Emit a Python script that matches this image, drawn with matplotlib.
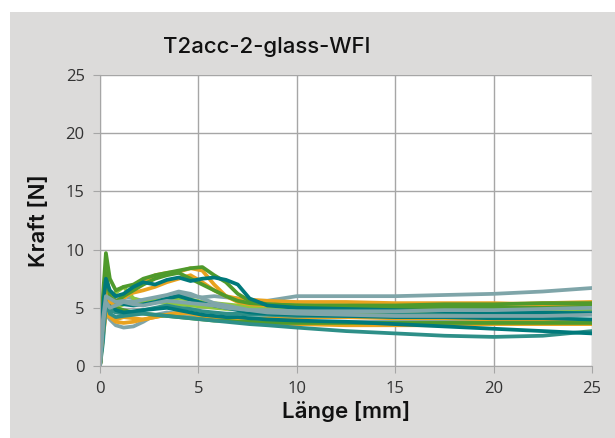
import matplotlib
matplotlib.use('Agg')
import matplotlib.pyplot as plt
from matplotlib.patches import Rectangle

# Länge [mm] sample positions shared by all curves
laenge = [0, 0.15, 0.3, 0.5, 0.8, 1.2, 1.7, 2.2, 2.8, 3.4, 4.0, 4.6, 5.2,
          5.8, 6.4, 7.0, 7.6, 8.5, 10, 12.5, 15, 17.5, 20, 22.5, 25]

kraft_01 = [0, 6.0, 9.7, 7.5, 6.5, 6.8, 7.0, 7.5, 7.8, 8.0, 8.2, 8.4, 8.5, 7.8, 7.2, 6.2, 5.6, 5.3, 5.2, 5.1, 5.0, 5.0, 5.0, 5.0, 5.1]
kraft_02 = [0, 3.0, 8.5, 4.5, 6.3, 6.8, 5.8, 5.5, 5.6, 5.7, 5.8, 5.7, 5.5, 5.4, 5.3, 5.2, 5.1, 5.0, 4.9, 4.8, 4.8, 4.8, 4.9, 5.0, 5.1]
kraft_03 = [0, 5.0, 7.5, 6.5, 6.0, 6.2, 6.8, 7.2, 7.0, 7.4, 7.6, 7.3, 7.5, 7.6, 7.4, 7.0, 5.8, 5.2, 5.0, 4.9, 4.8, 4.7, 4.6, 4.6, 4.5]
kraft_04 = [0, 4.0, 6.5, 5.5, 5.2, 5.8, 6.5, 7.3, 7.8, 8.0, 8.1, 8.4, 8.2, 7.0, 6.0, 5.5, 5.3, 5.2, 5.2, 5.2, 5.3, 5.3, 5.3, 5.4, 5.5]
kraft_05 = [0, 3.5, 5.0, 5.5, 5.8, 6.0, 5.8, 5.6, 5.8, 6.0, 6.2, 6.0, 5.9, 6.0, 5.9, 5.8, 5.6, 5.6, 6.0, 6.0, 6.0, 6.1, 6.2, 6.4, 6.7]
kraft_06 = [0, 3.0, 4.5, 4.0, 3.5, 3.3, 3.4, 3.8, 4.4, 4.6, 4.5, 4.4, 4.3, 4.2, 4.1, 4.0, 3.9, 3.8, 3.8, 3.8, 3.8, 3.8, 3.8, 3.8, 3.9]
kraft_07 = [0, 2.0, 5.5, 4.5, 4.2, 4.3, 4.4, 4.5, 4.4, 4.3, 4.2, 4.1, 4.0, 3.9, 3.8, 3.7, 3.6, 3.5, 3.3, 3.0, 2.8, 2.6, 2.5, 2.6, 3.0]
kraft_08 = [0, 4.5, 6.5, 5.5, 4.8, 4.6, 4.7, 4.8, 4.9, 5.0, 4.8, 4.6, 4.4, 4.3, 4.2, 4.2, 4.1, 4.0, 3.9, 3.8, 3.6, 3.4, 3.2, 3.0, 2.8]
kraft_09 = [0, 3.0, 5.0, 4.5, 4.0, 4.2, 4.1, 4.0, 4.2, 4.4, 4.6, 4.5, 4.3, 4.2, 4.1, 4.0, 4.0, 4.1, 4.2, 4.2, 4.1, 4.1, 4.0, 3.9, 3.9]
kraft_10 = [0, 5.0, 8.0, 6.0, 5.5, 6.0, 6.5, 7.0, 7.5, 7.8, 8.0, 7.5, 7.0, 6.5, 6.0, 5.6, 5.4, 5.3, 5.2, 5.2, 5.2, 5.3, 5.3, 5.4, 5.4]
kraft_11 = [0, 4.0, 7.0, 6.0, 5.5, 6.0, 6.3, 6.5, 6.8, 7.2, 7.5, 7.8, 7.2, 6.5, 6.0, 5.8, 5.7, 5.6, 5.5, 5.5, 5.4, 5.4, 5.4, 5.3, 5.3]
kraft_12 = [0, 4.0, 6.0, 5.2, 5.0, 5.3, 5.5, 5.6, 5.5, 5.4, 5.3, 5.2, 5.1, 5.0, 4.9, 4.9, 4.8, 4.8, 4.7, 4.6, 4.6, 4.6, 4.7, 4.7, 4.8]
kraft_13 = [0, 4.0, 6.0, 5.8, 5.5, 5.6, 5.5, 5.7, 5.9, 6.1, 6.4, 6.2, 5.8, 5.4, 5.2, 5.0, 4.8, 4.6, 4.5, 4.4, 4.3, 4.3, 4.3, 4.3, 4.4]
kraft_14 = [0, 4.5, 6.5, 6.2, 5.5, 5.3, 5.2, 5.3, 5.5, 5.8, 6.0, 5.7, 5.4, 5.2, 5.0, 4.8, 4.6, 4.5, 4.4, 4.3, 4.2, 4.2, 4.1, 4.1, 4.0]
kraft_15 = [0, 4.0, 6.5, 5.5, 5.0, 4.8, 4.6, 4.5, 4.4, 4.3, 4.2, 4.1, 4.0, 3.9, 3.9, 3.8, 3.8, 3.7, 3.7, 3.7, 3.7, 3.7, 3.7, 3.7, 3.7]
kraft_16 = [0, 3.0, 5.5, 4.8, 4.6, 4.5, 4.6, 4.8, 5.0, 5.2, 5.0, 4.9, 4.7, 4.6, 4.5, 4.5, 4.4, 4.4, 4.3, 4.3, 4.4, 4.4, 4.5, 4.5, 4.6]
kraft_17 = [0, 2.5, 4.5, 4.2, 3.8, 3.7, 3.8, 4.0, 4.2, 4.4, 4.5, 4.6, 4.4, 4.0, 3.9, 3.8, 3.7, 3.6, 3.6, 3.5, 3.5, 3.5, 3.6, 3.6, 3.6]
kraft_18 = [0, 3.5, 5.5, 5.0, 5.2, 5.5, 5.3, 5.2, 5.4, 5.6, 5.5, 5.4, 5.3, 5.2, 5.0, 4.9, 4.8, 4.8, 4.7, 4.7, 4.7, 4.8, 4.8, 4.9, 5.0]

TEAL = '#00797B'
TEAL2 = '#2E8F88'
GREEN = '#4F9A2C'
LGREEN = '#8DC63F'
ORANGE = '#E9A21F'
GRAY = '#7FA5A9'

curves = [
    (kraft_05, GRAY), (kraft_06, GRAY), (kraft_09, ORANGE), (kraft_17, ORANGE),
    (kraft_12, LGREEN), (kraft_02, LGREEN), (kraft_15, GREEN), (kraft_16, TEAL2),
    (kraft_07, TEAL2), (kraft_08, TEAL), (kraft_14, TEAL), (kraft_11, ORANGE),
    (kraft_04, ORANGE), (kraft_10, GREEN), (kraft_01, GREEN), (kraft_03, TEAL),
    (kraft_13, GRAY), (kraft_18, GRAY),
]

fig = plt.figure(figsize=(6.15, 4.38), dpi=100)
fig.patches.append(Rectangle((10 / 615, 0), 1, 1 - 12 / 438, transform=fig.transFigure,
                             facecolor='#DCDBDA', edgecolor='none', zorder=-1))
ax = fig.add_axes([100 / 615, 1 - 366 / 438, 492 / 615, 291 / 438])

for y, c in curves:
    ax.plot(laenge, y, color=c, lw=2.7, solid_capstyle='round', solid_joinstyle='round')

ax.set_xlim(0, 25)
ax.set_ylim(0, 25)
ax.set_xticks([0, 5, 10, 15, 20, 25])
ax.set_yticks([0, 5, 10, 15, 20, 25])
ax.grid(True, color='#A6A6A6', lw=1)
ax.set_axisbelow(True)
for s in ['top', 'right']:
    ax.spines[s].set_visible(False)
for s in ['left', 'bottom']:
    ax.spines[s].set_color('#A6A6A6')
ax.tick_params(length=5, color='#A6A6A6', labelsize=12, labelcolor='#333333', pad=6)
for lab in ax.get_xticklabels() + ax.get_yticklabels():
    lab.set_family('Open Sans')

lbl = dict(family='Inter', fontsize=16, fontweight='semibold', color='#111111')
ax.set_xlabel('Länge [mm]', labelpad=3, **lbl)
ax.set_ylabel('Kraft [N]', labelpad=12, **lbl)
fig.text(267 / 615, 1 - 47 / 438, 'T2acc-2-glass-WFI', ha='center', va='center',
         family='Inter', fontsize=16, fontweight='medium', color='#111111')

fig.savefig('out.png', dpi=100)
